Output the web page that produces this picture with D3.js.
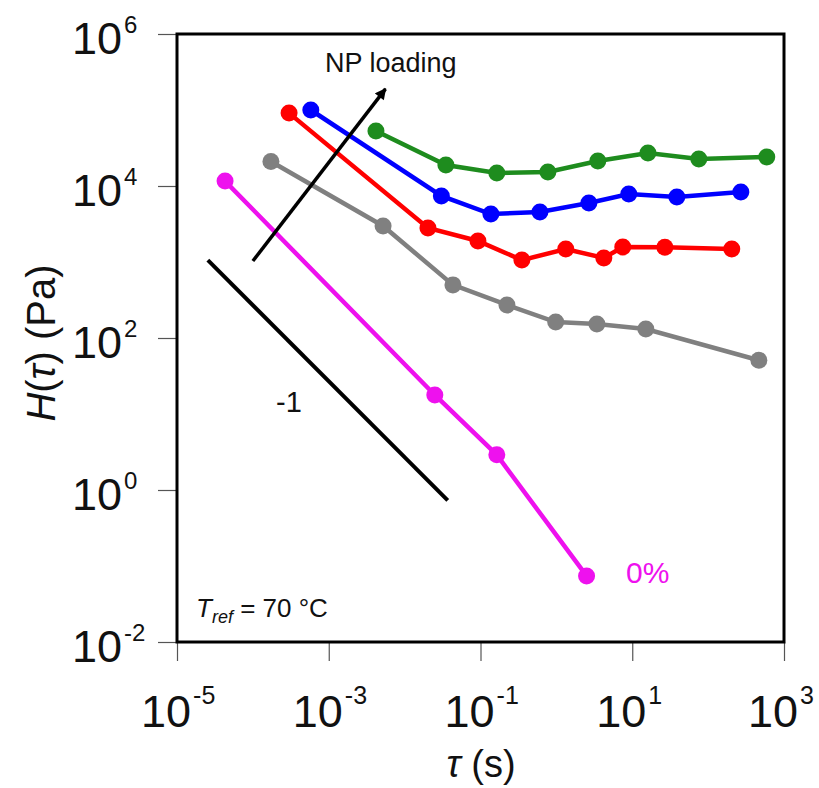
<!DOCTYPE html>
<html><head><meta charset="utf-8">
<script src="https://cdn.jsdelivr.net/npm/d3@7"></script>
<style>body{margin:0;background:#fff;} svg{display:block;font-family:"Liberation Sans",Arial,sans-serif;}</style>
</head><body>
<svg id="c" width="819" height="788"></svg>
<script>
// ---- data ----
const xTicks = [1e-5, 1e-3, 1e-1, 1e1, 1e3];
const xTickExp = ["-5", "-3", "-1", "1", "3"];
const yTicks = [1e-2, 1e0, 1e2, 1e4, 1e6];
const yTickExp = ["-2", "0", "2", "4", "6"];

const tau0 = [4.3e-5, 0.025, 0.164, 2.5];
const H0   = [1.16e4, 17.8, 2.9, 0.074];

const tauGray = [1.73e-4, 5.2e-3, 0.0433, 0.223, 0.98, 3.42, 15.1, 466];
const HGray   = [2.1e4, 2980, 500, 272, 162, 153, 131, 51];

const tauRed = [3.0e-4, 0.0203, 0.0925, 0.351, 1.33, 4.22, 7.5, 26.9, 205];
const HRed   = [9.1e4, 2800, 1890, 1060, 1480, 1130, 1575, 1560, 1480];

const tauBlue = [5.8e-4, 0.0305, 0.137, 0.607, 2.68, 9.0, 38.7, 270];
const HBlue   = [1.0e5, 7400, 4280, 4550, 5980, 7850, 7160, 8340];

const tauGreen = [4.19e-3, 0.035, 0.164, 0.773, 3.52, 16.1, 75.4, 593];
const HGreen   = [5.3e4, 1.89e4, 1.48e4, 1.53e4, 2.13e4, 2.72e4, 2.26e4, 2.41e4];

const slopeTau = [2.55e-5, 0.037];
const slopeH   = [1060, 0.73];
const arrowTau = [1.0e-4, 5.6e-3];
const arrowH   = [1030, 1.9e5];

const series = [
  {name:"0%", tau:tau0, H:H0, color:"#ee11ee"},
  {name:"gray", tau:tauGray, H:HGray, color:"#808080"},
  {name:"red", tau:tauRed, H:HRed, color:"#ff0000"},
  {name:"blue", tau:tauBlue, H:HBlue, color:"#0000ff"},
  {name:"green", tau:tauGreen, H:HGreen, color:"#1e8c1e"}
];

// ---- layout ----
const svg = d3.select("#c");
const L = 177, R = 784, T = 34, B = 642;
const x = d3.scaleLog().domain([1e-5, 1e3]).range([L, R]);
const y = d3.scaleLog().domain([1e-2, 1e6]).range([B, T]);

// axes
const gx = svg.append("g").attr("transform", `translate(0,${B})`)
  .call(d3.axisBottom(x).tickValues(xTicks).tickSize(19).tickFormat(""));
const gy = svg.append("g").attr("transform", `translate(${L},0)`)
  .call(d3.axisLeft(y).tickValues(yTicks).tickSize(19).tickFormat(""));
[gx, gy].forEach(g => {
  g.select(".domain").remove();
  g.selectAll(".tick line").attr("stroke", "#555").attr("stroke-width", 1.2);
});

// x tick labels
xTicks.forEach((v, i) => {
  const t = svg.append("text").attr("x", x(v) - 36).attr("y", 727)
    .attr("text-anchor", "start").attr("font-size", 45).attr("fill", "#111");
  t.append("tspan").text("10");
  t.append("tspan").attr("dx", 2).attr("dy", -23).attr("font-size", 25).text(xTickExp[i]);
});
// y tick labels
yTicks.forEach((v, i) => {
  const t = svg.append("text").attr("x", 72).attr("y", y(v) + 20)
    .attr("text-anchor", "start").attr("font-size", 45).attr("fill", "#111");
  t.append("tspan").text("10");
  t.append("tspan").attr("dx", 2).attr("dy", -21).attr("font-size", 24).text(yTickExp[i]);
});

// axis titles
svg.append("text").attr("x", 481).attr("y", 777).attr("text-anchor", "middle")
  .attr("font-size", 38).attr("fill", "#111")
  .html('<tspan font-style="italic">τ</tspan> (s)');
svg.append("text").attr("transform", "translate(55,343) rotate(-90)")
  .attr("text-anchor", "middle").attr("font-size", 40).attr("fill", "#111")
  .html('<tspan font-style="italic">H</tspan>(<tspan font-style="italic">τ</tspan>) (Pa)');

// series
const line = d3.line().x(d => x(d[0])).y(d => y(d[1]));
series.forEach(s => {
  const pts = s.tau.map((t, i) => [t, s.H[i]]);
  svg.append("path").datum(pts).attr("d", line).attr("fill", "none")
    .attr("stroke", s.color).attr("stroke-width", 4.5);
  svg.append("g").selectAll("circle").data(pts).join("circle")
    .attr("cx", d => x(d[0])).attr("cy", d => y(d[1])).attr("r", 8.5)
    .attr("fill", s.color);
});

// slope line
svg.append("line").attr("x1", x(slopeTau[0])).attr("y1", y(slopeH[0]))
  .attr("x2", x(slopeTau[1])).attr("y2", y(slopeH[1]))
  .attr("stroke", "#000").attr("stroke-width", 4);
svg.append("text").attr("x", 289).attr("y", 412).attr("text-anchor", "middle")
  .attr("font-size", 29).attr("fill", "#111").text("-1");

// arrow
svg.append("defs").append("marker").attr("id", "ah").attr("viewBox", "0 0 10 10")
  .attr("refX", 9).attr("refY", 5).attr("markerWidth", 3.6).attr("markerHeight", 3.2)
  .attr("orient", "auto").append("path").attr("d", "M0,0 L10,5 L0,10 z").attr("fill", "#000");
svg.append("line").attr("x1", x(arrowTau[0])).attr("y1", y(arrowH[0]))
  .attr("x2", x(arrowTau[1])).attr("y2", y(arrowH[1]))
  .attr("stroke", "#000").attr("stroke-width", 3.5).attr("marker-end", "url(#ah)");
svg.append("text").attr("x", 325).attr("y", 72).attr("font-size", 27)
  .attr("fill", "#111").text("NP loading");

// 0% label
svg.append("text").attr("x", 626).attr("y", 583).attr("font-size", 30)
  .attr("fill", "#ee11ee").text("0%");

// Tref
svg.append("text").attr("x", 196).attr("y", 617).attr("font-size", 26).attr("fill", "#111")
  .html('<tspan font-style="italic">T</tspan><tspan font-style="italic" font-size="18" dy="6">ref</tspan><tspan dy="-6"> = 70 °C</tspan>');

// frame
svg.append("rect").attr("x", L).attr("y", T).attr("width", R - L).attr("height", B - T)
  .attr("fill", "none").attr("stroke", "#000").attr("stroke-width", 3);
</script>
</body></html>
